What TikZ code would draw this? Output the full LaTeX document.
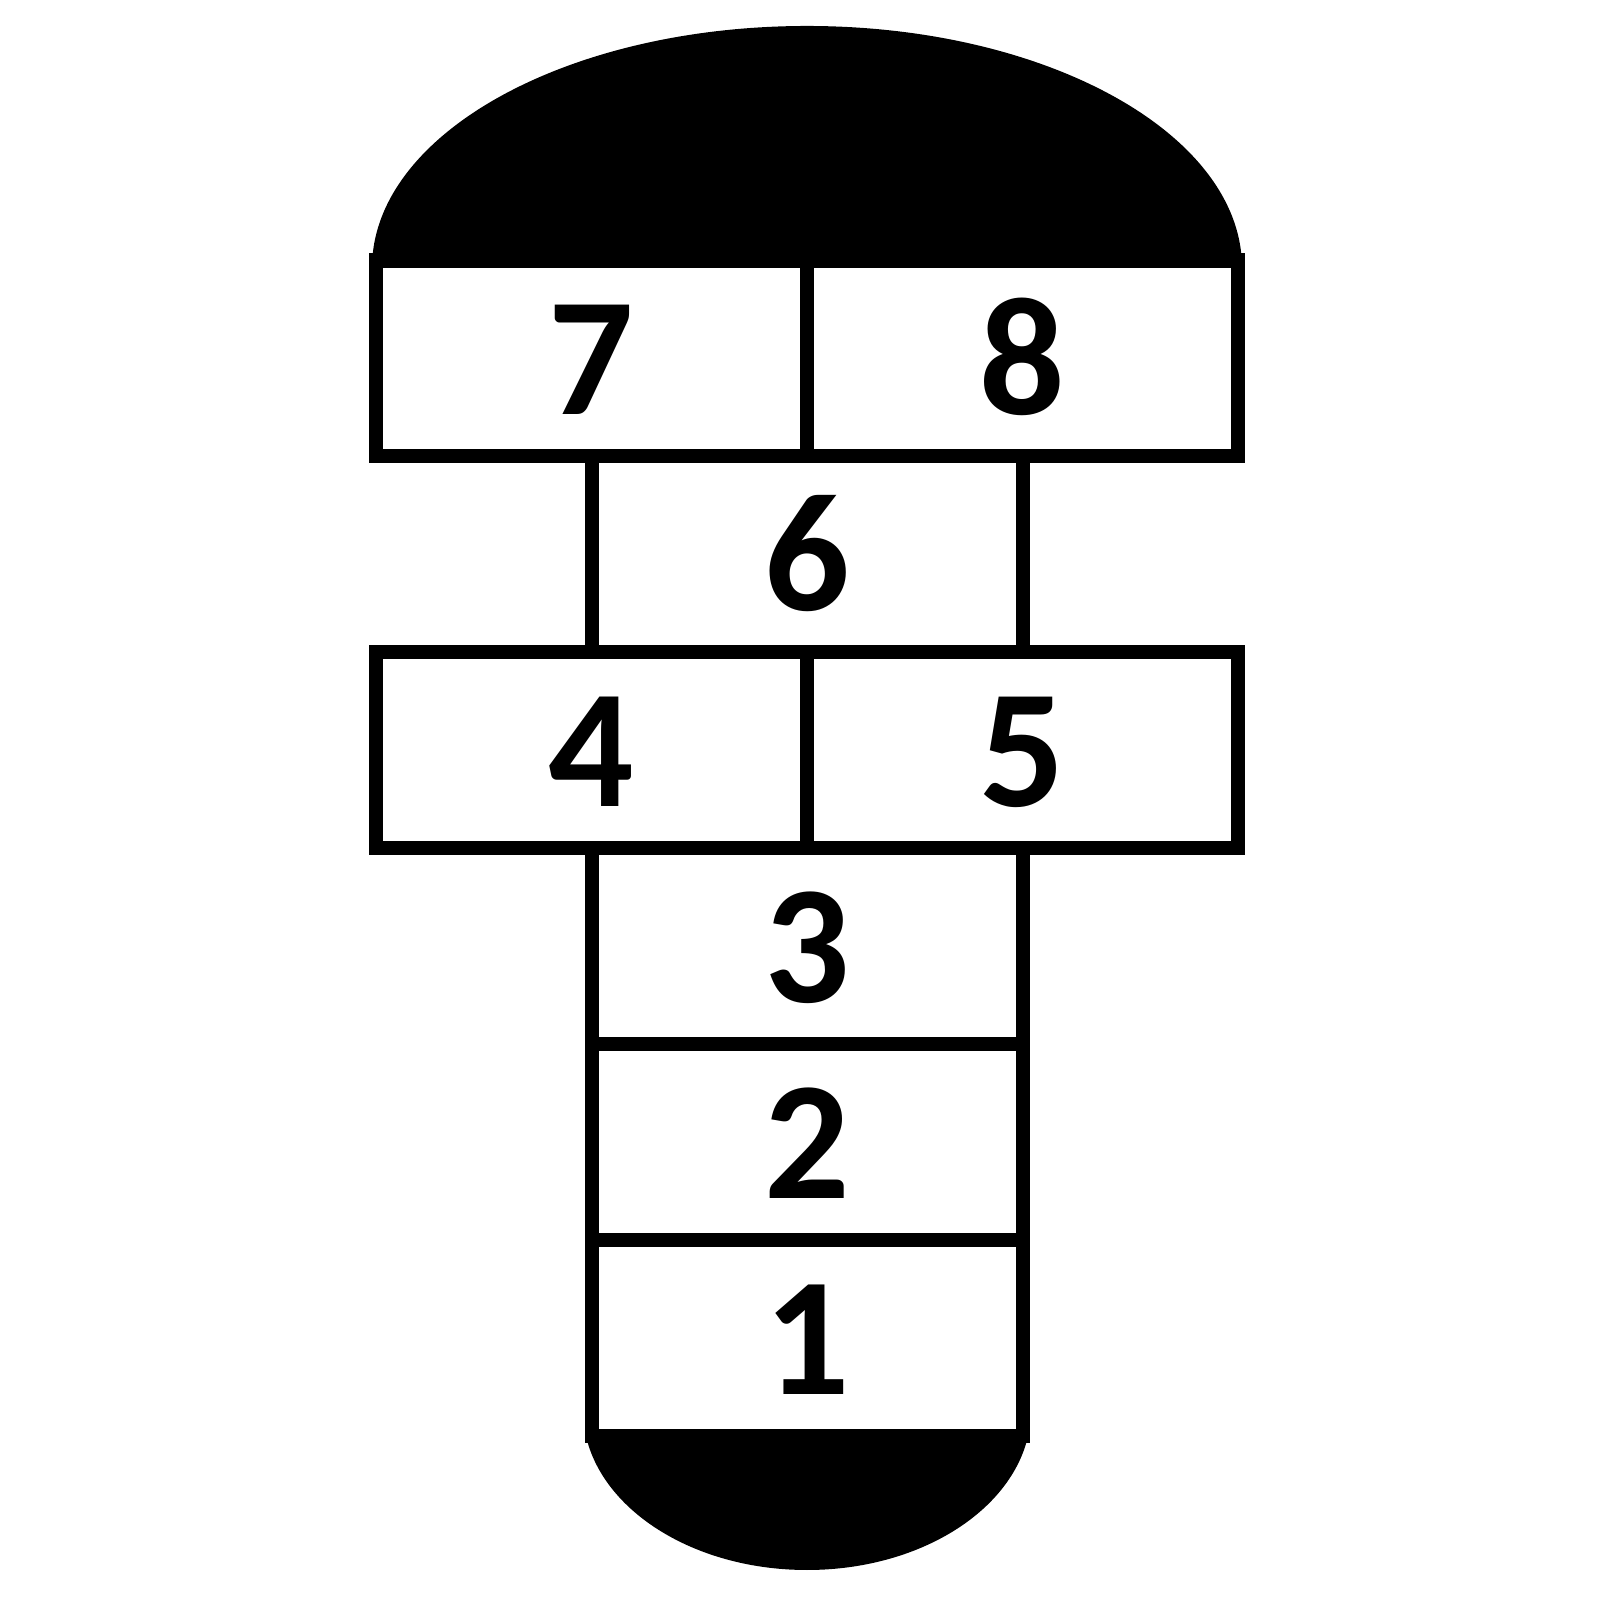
\documentclass[tikz,border=0pt]{standalone}
\usepackage{fontspec}
\setmainfont{Carlito}
\usepackage{tikz}
\usetikzlibrary{positioning}

\begin{document}
\begin{tikzpicture}[cell/.style={draw,line width=0.14cm,minimum width=4.31cm,minimum height=1.96cm,inner sep=0pt,text height=1.14cm,font=\fontsize{48pt}{48pt}\selectfont\bfseries}]
\useasboundingbox (0,0) rectangle (16,16);
% top and bottom ends
\fill (3.72,13.32) arc[start angle=180,end angle=0,x radius=4.35,y radius=2.42] -- cycle;
\begin{scope}
  \clip (0,0) rectangle (16,1.64);
  \fill (8.07,1.90) ellipse[x radius=2.24,y radius=1.60];
\end{scope}
% squares
\foreach \n/\x/\y in {1/8.07/2.62,2/8.07/4.58,3/8.07/6.54,4/5.915/8.50,5/10.225/8.50,6/8.07/10.46,7/5.915/12.42,8/10.225/12.42}{
  \node[cell] (c\n) at (\x,\y) {\n};
}
\end{tikzpicture}
\end{document}
